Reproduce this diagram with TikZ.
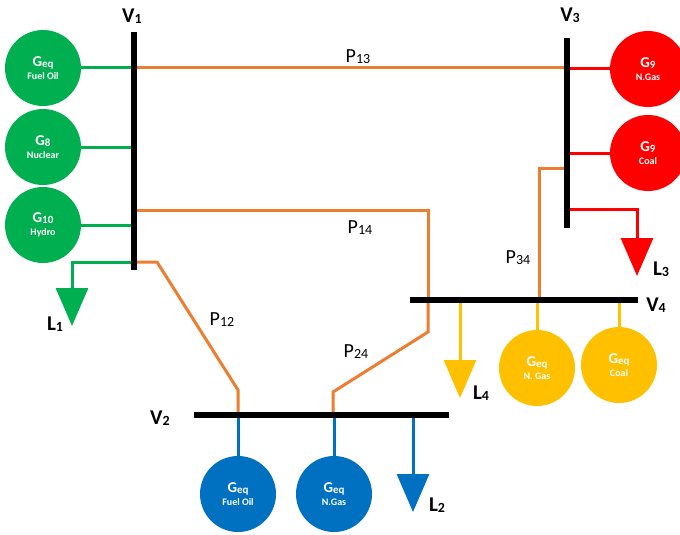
\documentclass[tikz,border=0pt]{standalone}
\usepackage{fontspec}
\setmainfont{Carlito}
\usetikzlibrary{arrows.meta}
\definecolor{gengreen}{RGB}{0,176,80}
\definecolor{lineorange}{RGB}{237,125,49}
\definecolor{genred}{RGB}{255,0,0}
\definecolor{genyellow}{RGB}{255,192,0}
\definecolor{genblue}{RGB}{0,112,192}
\newcommand{\sub}[1]{\raisebox{-1pt}{\fontsize{14}{14}\selectfont #1}}
\newcommand{\gname}[2]{{\fontsize{15}{15}\selectfont G\raisebox{-1pt}{\fontsize{11}{11}\selectfont #1}}\\[1pt]{\fontsize{10}{10}\selectfont #2}}

\begin{document}
\begin{tikzpicture}[x=1pt,y=-1pt]
\tikzstyle{every node}+=[inner sep=0pt]
\tikzstyle{gen}=[circle,minimum size=76pt,text=white,font=\bfseries,align=center]
\tikzstyle{bus}=[black,line width=6pt]
\tikzstyle{link}=[lineorange,line width=3pt]
\tikzstyle{tap}=[line width=3pt]
\tikzstyle{load}=[line width=3pt,-{Triangle[length=38pt,width=32pt]}]
\tikzstyle{plbl}=[font=\fontsize{20}{20}\selectfont]
\tikzstyle{blbl}=[font=\fontsize{21}{21}\selectfont\bfseries]
\useasboundingbox (0,0) rectangle (680,535);
\coordinate (v1t) at (134,32);
\coordinate (v1b) at (134,270);
\coordinate (v3t) at (567,38);
\coordinate (v3b) at (567,228);
\coordinate (v4l) at (410,300);
\coordinate (v4r) at (638,300);
\coordinate (v2l) at (194,415);
\coordinate (v2r) at (449,415);
\coordinate (v1c) at (134,262);
\coordinate (v1p13) at (134,68);
\coordinate (v1p14) at (134,210);
\coordinate (v3l) at (567,209);
\coordinate (v3p34) at (567,168);
\coordinate (v4p14) at (428,300);
\coordinate (v4p34) at (539,300);
\coordinate (v2p12) at (238,415);
\coordinate (v2p24) at (333,415);
\coordinate (l1) at (72,326);
\coordinate (l2) at (413,512);
\coordinate (l3) at (637,276);
\coordinate (l4) at (460,398);
\node [gen,fill=gengreen] (g1fo) at (43,68) {\gname{eq}{Fuel Oil}};
\node [gen,fill=gengreen] (g1nu) at (43,147) {\gname{8}{Nuclear}};
\node [gen,fill=gengreen] (g1hy) at (43,225) {\gname{10}{Hydro}};
\node [gen,fill=genred] (g3ng) at (648,69) {\gname{9}{N.Gas}};
\node [gen,fill=genred] (g3co) at (648,153) {\gname{9}{Coal}};
\node [gen,fill=genyellow] (g4ng) at (537,368) {\gname{eq}{N. Gas}};
\node [gen,fill=genyellow] (g4co) at (619,365) {\gname{eq}{Coal}};
\node [gen,fill=genblue] (g2fo) at (238,494) {\gname{eq}{Fuel Oil}};
\node [gen,fill=genblue] (g2ng) at (334,494) {\gname{eq}{N.Gas}};
\draw [tap,gengreen] (g1fo.east) -- (g1fo.east -| v1t);
\draw [tap,gengreen] (g1nu.east) -- (g1nu.east -| v1t);
\draw [tap,gengreen] (g1hy.east) -- (g1hy.east -| v1t);
\draw [tap,genred] (g3ng.west) -- (g3ng.west -| v3t);
\draw [tap,genred] (g3co.west) -- (g3co.west -| v3t);
\draw [tap,genyellow] (g4ng.north) -- (g4ng.north |- v4l);
\draw [tap,genyellow] (g4co.north) -- (g4co.north |- v4l);
\draw [tap,genblue] (g2fo.north) -- (g2fo.north |- v2l);
\draw [tap,genblue] (g2ng.north) -- (g2ng.north |- v2l);
\draw [load,gengreen] (v1c) -| (l1);
\draw [load,genred] (v3l) -| (l3);
\draw [load,genyellow] (l4 |- v4l) -- (l4);
\draw [load,genblue] (l2 |- v2l) -- (l2);
\draw [link] (v1p13) -- (v1p13 -| v3t);
\draw [link] (v1p14) -| (v4p14);
\draw [link] (v4p14) -- ++(0,32) -- ++(-95,60) -- (v2p24);
\draw [link] (v1c) -- ++(23,0) -- ++(81,128) -- (v2p12);
\draw [link] (v3p34) -| (v4p34);
\draw [bus] (v1t) -- (v1b);
\draw [bus] (v3t) -- (v3b);
\draw [bus] (v4l) -- (v4r);
\draw [bus] (v2l) -- (v2r);
\node [blbl] (v1lbl) at (132,16) {V\sub{1}};
\node [blbl] (v2lbl) at (160,418) {V\sub{2}};
\node [blbl] (v3lbl) at (570,15) {V\sub{3}};
\node [blbl] (v4lbl) at (656,305) {V\sub{4}};
\node [blbl] (l1lbl) at (55,324) {L\sub{1}};
\node [blbl] (l2lbl) at (437,505) {L\sub{2}};
\node [blbl] (l3lbl) at (661,269) {L\sub{3}};
\node [blbl] (l4lbl) at (481,393) {L\sub{4}};
\node [plbl] (p13lbl) at (358,57) {P\sub{13}};
\node [plbl] (p14lbl) at (360,228) {P\sub{14}};
\node [plbl] (p34lbl) at (518,258) {P\sub{34}};
\node [plbl] (p12lbl) at (222,320) {P\sub{12}};
\node [plbl] (p24lbl) at (356,352) {P\sub{24}};
\end{tikzpicture}
\end{document}
